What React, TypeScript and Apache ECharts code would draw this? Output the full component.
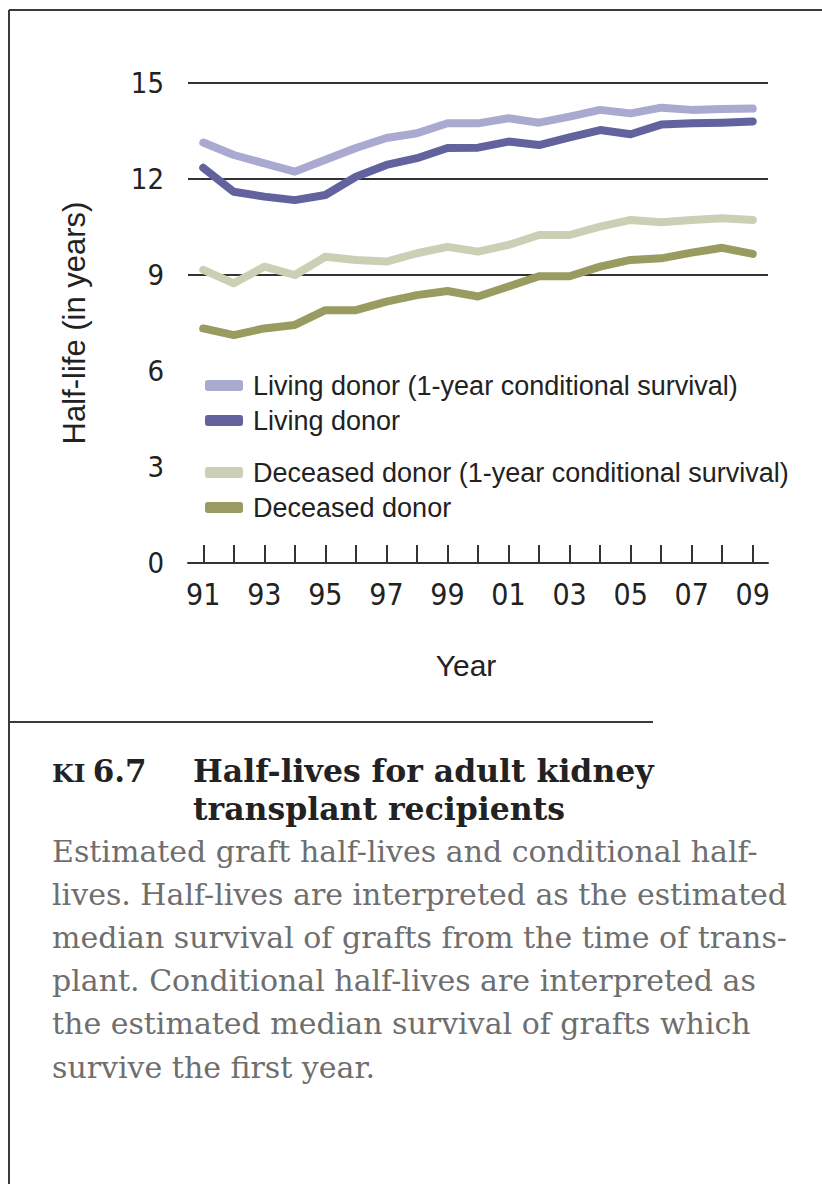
import React, { useEffect, useRef } from "react";
import * as echarts from "echarts";

const years = ["91","92","93","94","95","96","97","98","99","00","01","02","03","04","05","06","07","08","09"];
const yTicks = [0, 3, 6, 9, 12, 15];

const livingCond = [13.14, 12.75, 12.49, 12.23, 12.6, 12.97, 13.28, 13.43, 13.74, 13.74, 13.9, 13.76, 13.95, 14.16, 14.05, 14.23, 14.16, 14.19, 14.2];
const living = [12.35, 11.6, 11.45, 11.34, 11.5, 12.07, 12.44, 12.65, 12.97, 12.98, 13.17, 13.06, 13.3, 13.53, 13.4, 13.7, 13.74, 13.76, 13.8];
const deceasedCond = [9.16, 8.74, 9.26, 9.0, 9.57, 9.47, 9.42, 9.68, 9.88, 9.73, 9.94, 10.25, 10.25, 10.51, 10.72, 10.65, 10.72, 10.77, 10.72];
const deceased = [7.33, 7.12, 7.33, 7.44, 7.9, 7.9, 8.17, 8.37, 8.5, 8.33, 8.64, 8.96, 8.96, 9.26, 9.47, 9.52, 9.7, 9.85, 9.66];

const seriesNames = [
  "Living donor (1-year conditional survival)",
  "Living donor",
  "Deceased donor (1-year conditional survival)",
  "Deceased donor",
];
const seriesColors = ["#aaa9cf", "#62629f", "#cdcfb5", "#9a9b60"];
const seriesData = [livingCond, living, deceasedCond, deceased];

const captionNumber = "6.7";
const captionTitle = ["Half-lives for adult kidney", "transplant recipients"];
const captionBody = [
  "Estimated graft half-lives and conditional half-",
  "lives. Half-lives are interpreted as the estimated",
  "median survival of grafts from the time of trans-",
  "plant. Conditional half-lives are interpreted as",
  "the estimated median survival of grafts which",
  "survive the first year.",
];

const SANS = "'Liberation Sans', Arial, sans-serif";
const NARROW = "'Liberation Sans Narrow', 'DejaVu Sans Condensed', 'Liberation Sans', sans-serif";
const SERIF = "'DejaVu Serif', 'Liberation Serif', serif";

export default function App() {
  const ref = useRef<HTMLDivElement>(null);
  useEffect(() => {
    if (!ref.current) return;
    const chart = echarts.init(ref.current, null, { renderer: "svg" });
    const frameColor = "#3a3a3a";
    const graphics: any[] = [
      { type: "line", shape: { x1: 9, y1: 10, x2: 822, y2: 10 }, style: { stroke: frameColor, lineWidth: 2 } },
      { type: "line", shape: { x1: 9, y1: 10, x2: 9, y2: 1184 }, style: { stroke: frameColor, lineWidth: 2 } },
      { type: "line", shape: { x1: 9, y1: 722, x2: 653, y2: 722 }, style: { stroke: frameColor, lineWidth: 2 } },
      {
        type: "text",
        x: 52,
        y: 771,
        style: {
          text: "{sc|KI} {n|" + captionNumber + "}",
          verticalAlign: "middle",
          rich: {
            sc: { fontFamily: SERIF, fontWeight: "bold", fontSize: 25, fill: "#222", verticalAlign: "bottom", padding: [0, 4, 1, 0] },
            n: { fontFamily: SERIF, fontWeight: "bold", fontSize: 31, fill: "#222", verticalAlign: "bottom" },
          },
        },
      },
    ];
    captionTitle.forEach((t, i) => {
      graphics.push({
        type: "text",
        x: 193,
        y: 770 + i * 38,
        style: {
          text: t,
          fontFamily: SERIF,
          fontWeight: "bold",
          fontSize: 31.5,
          fill: "#222",
          verticalAlign: "middle",
        },
      });
    });
    captionBody.forEach((t, i) => {
      graphics.push({
        type: "text",
        x: 52,
        y: 851 + i * 43.2,
        style: {
          text: t,
          fontFamily: SERIF,
          fontSize: 30,
          fill: "#6e6e6e",
          verticalAlign: "middle",
        },
      });
    });

    const legendCommon = {
      orient: "vertical",
      left: 200,
      itemWidth: 38,
      itemHeight: 11,
      icon: "roundRect",
      itemGap: 8,
      textStyle: { fontFamily: SANS, fontSize: 27, color: "#222", padding: [0, 0, 0, 5] },
      selectedMode: false,
    };

    chart.setOption({
      animation: false,
      grid: { left: 188, right: 54, top: 83, bottom: 621, containLabel: false },
      legend: [
        { ...legendCommon, top: 367, data: seriesNames.slice(0, 2) },
        { ...legendCommon, top: 454, data: seriesNames.slice(2, 4) },
      ],
      xAxis: {
        type: "category",
        data: years,
        boundaryGap: true,
        name: "Year",
        nameLocation: "middle",
        nameGap: 87,
        nameTextStyle: { fontFamily: SANS, fontSize: 30, color: "#222", padding: [0, 24, 0, 0] },
        axisLine: { lineStyle: { color: "#333", width: 2 } },
        axisTick: { show: true, inside: true, length: 18, alignWithLabel: true, interval: 0, lineStyle: { color: "#333", width: 2 } },
        axisLabel: { interval: 1, margin: 16, fontFamily: NARROW, fontSize: 30, color: "#222" },
        splitLine: { show: false },
      },
      yAxis: {
        type: "value",
        min: yTicks[0],
        max: yTicks[yTicks.length - 1],
        interval: 3,
        name: "Half-life (in years)",
        nameLocation: "middle",
        nameGap: 98,
        nameTextStyle: { fontFamily: SANS, fontSize: 31, color: "#222" },
        axisLine: { show: false },
        axisTick: { show: false },
        axisLabel: { margin: 24, fontFamily: NARROW, fontSize: 29, color: "#222" },
        splitLine: {
          show: true,
          lineStyle: {
            color: ["rgba(0,0,0,0)", "rgba(0,0,0,0)", "rgba(0,0,0,0)", "#333", "#333", "#333"],
            width: 2,
          },
        },
      },
      series: seriesNames.map((name, i) => ({
        name,
        type: "line",
        data: seriesData[i],
        symbol: "none",
        color: seriesColors[i],
        lineStyle: { width: 8, color: seriesColors[i], cap: "round", join: "round" },
        z: 3,
      })),
      graphic: graphics,
    });
    return () => chart.dispose();
  }, []);
  return (
    <div
      ref={ref}
      style={{ position: "absolute", left: 0, top: 0, width: 822, height: 1184, background: "#fff" }}
    />
  );
}
